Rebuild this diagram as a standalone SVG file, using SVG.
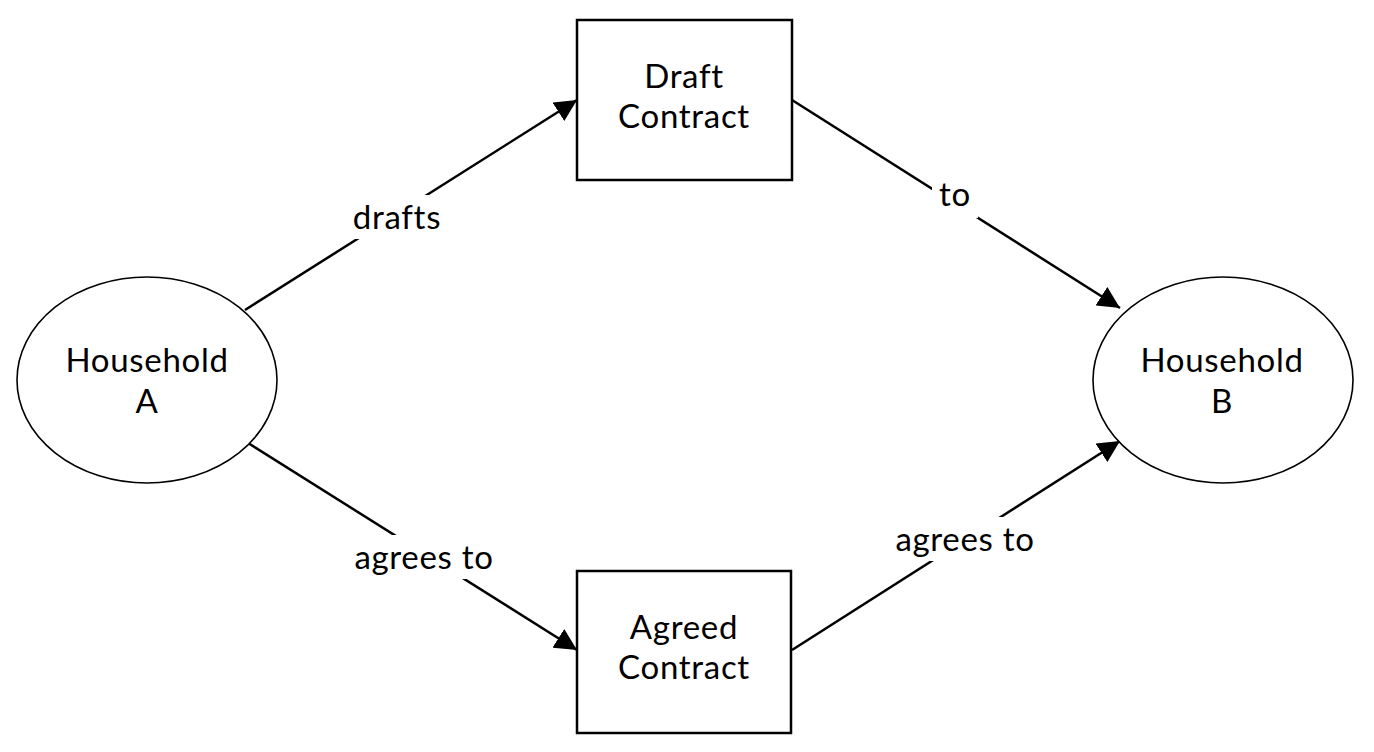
<svg xmlns="http://www.w3.org/2000/svg" width="1374" height="752" viewBox="0 0 1374 752">
<style>
.node{fill:#fff;stroke:#000}
.rect{stroke-width:2.5}
.ell{stroke-width:1.6}
.t{font-family:Lato,"Noto Sans",sans-serif;font-size:33px;letter-spacing:0.7px;fill:#000;text-anchor:middle}
.edge{stroke:#000;stroke-width:2.5;fill:none}
.lbg{fill:#fff}
</style>
<defs>
<marker id="arrow" viewBox="0 0 22 22" refX="22" refY="11" markerWidth="22" markerHeight="22" markerUnits="userSpaceOnUse" orient="auto">
<path d="M0,0 L22,11 L0,22 z" fill="#000"/>
</marker>
</defs>
<rect width="1374" height="752" fill="#fff"/>
<g id="connectors">
<line class="edge" x1="245" y1="310" x2="577" y2="100" marker-end="url(#arrow)"/>
<line class="edge" x1="792" y1="100" x2="1120" y2="308" marker-end="url(#arrow)"/>
<line class="edge" x1="245" y1="441" x2="577" y2="650" marker-end="url(#arrow)"/>
<line class="edge" x1="792" y1="650" x2="1120" y2="441" marker-end="url(#arrow)"/>
<rect class="lbg" x="344" y="195" width="106" height="44"/>
<text class="t" x="397" y="229">drafts</text>
<rect class="lbg" x="932" y="174" width="46" height="44"/>
<text class="t" x="955" y="206">to</text>
<rect class="lbg" x="348" y="535" width="154" height="44"/>
<text class="t" x="424" y="569">agrees to</text>
<rect class="lbg" x="888" y="517" width="154" height="44"/>
<text class="t" x="965" y="551">agrees to</text>
</g>
<g id="household-a">
<ellipse class="node ell" cx="147" cy="380" rx="130" ry="103"/>
<text class="t" x="147" y="372">Household</text>
<text class="t" x="147" y="413">A</text>
</g>
<g id="household-b">
<ellipse class="node ell" cx="1223" cy="380" rx="130" ry="103"/>
<text class="t" x="1222" y="372">Household</text>
<text class="t" x="1222" y="413">B</text>
</g>
<g id="draft-contract">
<rect class="node rect" x="577" y="20" width="215" height="160"/>
<text class="t" x="684" y="88">Draft</text>
<text class="t" x="684" y="128">Contract</text>
</g>
<g id="agreed-contract">
<rect class="node rect" x="577" y="571" width="214" height="162"/>
<text class="t" x="684" y="639">Agreed</text>
<text class="t" x="684" y="679">Contract</text>
</g>
</svg>
